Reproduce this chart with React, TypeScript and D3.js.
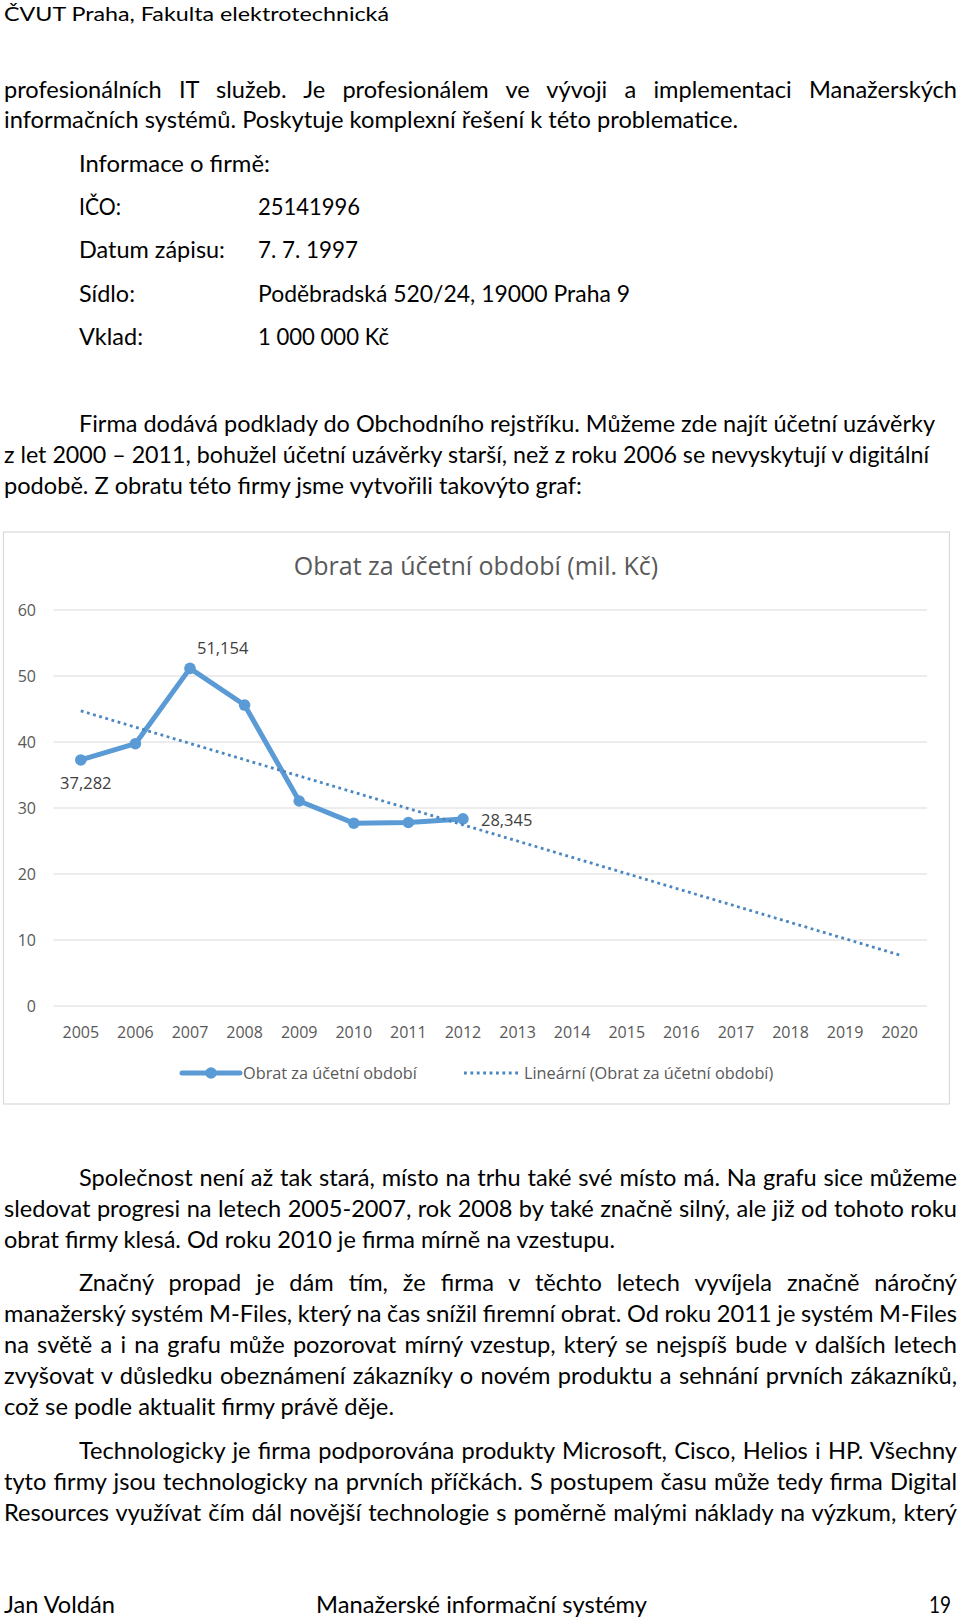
import React, { useEffect, useRef } from "react";
import * as d3 from "d3";

// ---------- chart data ----------
const years = ["2005","2006","2007","2008","2009","2010","2011","2012","2013","2014","2015","2016","2017","2018","2019","2020"];
const obratYears = ["2005","2006","2007","2008","2009","2010","2011","2012"];
const obrat = [37.282, 39.74, 51.154, 45.6, 31.06, 27.7, 27.8, 28.345];
const yTicks = [0, 10, 20, 30, 40, 50, 60];
const labelled = [0, 2, 7];
const chartTitle = "Obrat za účetní období (mil. Kč)";
const seriesName = "Obrat za účetní období";
const trendName = "Lineární (Obrat za účetní období)";

// ---------- page text ----------
type Ln = { t: string; x: number; y: number; w: number; j?: boolean; fs?: number };
const pageLines: Ln[] = [
  { t: "ČVUT Praha, Fakulta elektrotechnická", x: 4, y: 21, w: 385, fs: 19.5 },
  { t: "profesionálních IT služeb. Je profesionálem ve vývoji a implementaci Manažerských", x: 4, y: 97.5, w: 953, j: true },
  { t: "informačních systémů. Poskytuje komplexní řešení k této problematice.", x: 4, y: 127.5, w: 734 },
  { t: "Informace o firmě:", x: 79, y: 171.5, w: 191 },
  { t: "IČO:", x: 79, y: 214.5, w: 42 },
  { t: "25141996", x: 258, y: 214.5, w: 102 },
  { t: "Datum zápisu:", x: 79, y: 258, w: 146 },
  { t: "7. 7. 1997", x: 258, y: 258, w: 100 },
  { t: "Sídlo:", x: 79, y: 301.5, w: 56 },
  { t: "Poděbradská 520/24, 19000 Praha 9", x: 258, y: 301.5, w: 372 },
  { t: "Vklad:", x: 79, y: 345, w: 64 },
  { t: "1 000 000 Kč", x: 258, y: 345, w: 131 },
  { t: "Firma dodává podklady do Obchodního rejstříku. Můžeme zde najít účetní uzávěrky", x: 79, y: 432, w: 856 },
  { t: "z let 2000 – 2011, bohužel účetní uzávěrky starší, než z roku 2006 se nevyskytují v digitální", x: 4, y: 463, w: 925 },
  { t: "podobě. Z obratu této firmy jsme vytvořili takovýto graf:", x: 4, y: 494, w: 578 },
  { t: "Společnost není až tak stará, místo na trhu také své místo má. Na grafu sice můžeme", x: 79, y: 1186, w: 878, j: true },
  { t: "sledovat progresi na letech 2005-2007, rok 2008 by také značně silný, ale již od tohoto roku", x: 4, y: 1217, w: 953, j: true },
  { t: "obrat firmy klesá. Od roku 2010 je firma mírně na vzestupu.", x: 4, y: 1248, w: 611 },
  { t: "Značný propad je dám tím, že firma v těchto letech vyvíjela značně náročný", x: 79, y: 1291, w: 878, j: true },
  { t: "manažerský systém M-Files, který na čas snížil firemní obrat. Od roku 2011 je systém M-Files", x: 4, y: 1322, w: 953, j: true },
  { t: "na světě a i na grafu může pozorovat mírný vzestup, který se nejspíš bude v dalších letech", x: 4, y: 1353, w: 953, j: true },
  { t: "zvyšovat v důsledku obeznámení zákazníky o novém produktu a sehnání prvních zákazníků,", x: 4, y: 1384, w: 953, j: true },
  { t: "což se podle aktualit firmy právě děje.", x: 4, y: 1415, w: 390 },
  { t: "Technologicky je firma podporována produkty Microsoft, Cisco, Helios i HP. Všechny", x: 79, y: 1458.5, w: 878, j: true },
  { t: "tyto firmy jsou technologicky na prvních příčkách. S postupem času může tedy firma Digital", x: 4, y: 1489.5, w: 953, j: true },
  { t: "Resources využívat čím dál novější technologie s poměrně malými náklady na výzkum, který", x: 4, y: 1520.5, w: 953, j: true },
  { t: "Jan Voldán", x: 4, y: 1613, w: 111 },
  { t: "Manažerské informační systémy", x: 316, y: 1613, w: 331 },
  { t: "19", x: 929, y: 1613, w: 22 },
];

const BODY_FONT = "Lato, 'Open Sans', sans-serif";
const CHART_FONT = "'Open Sans', sans-serif";

function TextLine({ l }: { l: Ln }) {
  const ref = useRef<SVGTextElement>(null);
  useEffect(() => {
    const el = ref.current;
    if (!el) return;
    const fit = () => {
      el.removeAttribute("word-spacing");
      el.removeAttribute("textLength");
      el.removeAttribute("lengthAdjust");
      const nat = el.getComputedTextLength();
      const spaces = (l.t.match(/ /g) || []).length;
      if (l.j && spaces > 0) {
        const ws = (l.w - nat) / spaces;
        el.setAttribute("word-spacing", String(ws));
        const after = el.getComputedTextLength();
        if (Math.abs(after - l.w) > 2) {
          el.setAttribute("textLength", String(l.w));
          el.setAttribute("lengthAdjust", "spacingAndGlyphs");
        }
      } else {
        el.setAttribute("textLength", String(l.w));
        el.setAttribute("lengthAdjust", "spacingAndGlyphs");
      }
    };
    fit();
    if ((document as any).fonts && (document as any).fonts.ready) {
      (document as any).fonts.ready.then(fit);
    }
  }, [l]);
  return (
    <text ref={ref} x={l.x} y={l.y} fontFamily={BODY_FONT} fontSize={l.fs ?? 23.6} fill="#000">
      {l.t}
    </text>
  );
}

function Chart() {
  const x = d3.scaleBand<string>().domain(years).range([53.5, 927]).padding(0);
  const cx = (yr: string) => (x(yr) as number) + x.bandwidth() / 2;
  const y = d3.scaleLinear().domain([0, 60]).range([1006, 610]);

  // Excel linear trendline (least squares on series index)
  const idx = obrat.map((_, i) => i + 1);
  const mx = d3.mean(idx) as number;
  const my = d3.mean(obrat) as number;
  const slope =
    d3.sum(idx.map((v, i) => (v - mx) * (obrat[i] - my))) / d3.sum(idx.map((v) => (v - mx) * (v - mx)));
  const intercept = my - slope * mx;
  const trendPts: [number, number][] = [years[0], years[years.length - 1]].map((yr) => {
    const k = years.indexOf(yr) + 1;
    return [cx(yr), y(intercept + slope * k)];
  });

  const line = d3
    .line<number>()
    .x((_, i) => cx(obratYears[i]))
    .y((d) => y(d));

  const blue = "#5b9bd5";
  const trendBlue = "#4a86c0";
  const fmt = (v: number) => v.toFixed(3).replace(".", ",");

  const labelPos = (i: number) => {
    const px = cx(obratYears[i]);
    const py = y(obrat[i]);
    if (i === 0) return { x: px + 5, y: py + 29, a: "middle" };
    if (i === 2) return { x: px + 7, y: py - 14, a: "start" };
    return { x: px + 18, y: py + 7, a: "start" };
  };

  return (
    <g>
      <rect x={3.5} y={532} width={946} height={572} fill="#fff" stroke="#d9d9d9" strokeWidth={1.2} />
      <text x={476} y={575} textAnchor="middle" fontFamily={CHART_FONT} fontSize={25} fill="#595959">
        {chartTitle}
      </text>
      {yTicks.map((t) => (
        <g key={t}>
          <line x1={53.5} x2={927} y1={y(t)} y2={y(t)} stroke="#d9d9d9" strokeWidth={1.2} />
          <text x={36} y={y(t)} dy="0.36em" textAnchor="end" fontFamily={CHART_FONT} fontSize={16} fill="#595959">
            {t}
          </text>
        </g>
      ))}
      {years.map((yr) => (
        <text key={yr} x={cx(yr)} y={1032} dy="0.36em" textAnchor="middle" fontFamily={CHART_FONT} fontSize={16} fill="#595959">
          {yr}
        </text>
      ))}
      <path d={line(obrat) as string} fill="none" stroke={blue} strokeWidth={5} strokeLinejoin="round" strokeLinecap="round" />
      {obrat.map((v, i) => (
        <circle key={i} cx={cx(obratYears[i])} cy={y(v)} r={5.8} fill={blue} />
      ))}
      <line
        x1={trendPts[0][0]}
        y1={trendPts[0][1]}
        x2={trendPts[1][0]}
        y2={trendPts[1][1]}
        stroke={trendBlue}
        strokeWidth={2.8}
        strokeDasharray="2.8 3.6"
      />
      {labelled.map((i) => {
        const p = labelPos(i);
        return (
          <text key={i} x={p.x} y={p.y} textAnchor={p.a as any} fontFamily={CHART_FONT} fontSize={16.5} fill="#404040">
            {fmt(obrat[i])}
          </text>
        );
      })}
      {/* legend */}
      <line x1={182} x2={240} y1={1073} y2={1073} stroke={blue} strokeWidth={5} strokeLinecap="round" />
      <circle cx={211} cy={1073} r={5.8} fill={blue} />
      <text x={243} y={1073} dy="0.36em" fontFamily={CHART_FONT} fontSize={16.3} fill="#595959">
        {seriesName}
      </text>
      <line x1={464} x2={518} y1={1073} y2={1073} stroke={trendBlue} strokeWidth={2.8} strokeDasharray="2.8 3.6" />
      <text x={524} y={1073} dy="0.36em" fontFamily={CHART_FONT} fontSize={16.3} fill="#595959">
        {trendName}
      </text>
    </g>
  );
}

export default function App() {
  return (
    <svg
      width={960}
      height={1624}
      viewBox="0 0 960 1624"
      style={{ position: "absolute", left: 0, top: 0, background: "#fff", display: "block" }}
    >
      <rect x={0} y={0} width={960} height={1624} fill="#fff" />
      {pageLines.map((l, i) => (
        <TextLine key={i} l={l} />
      ))}
      <Chart />
    </svg>
  );
}
